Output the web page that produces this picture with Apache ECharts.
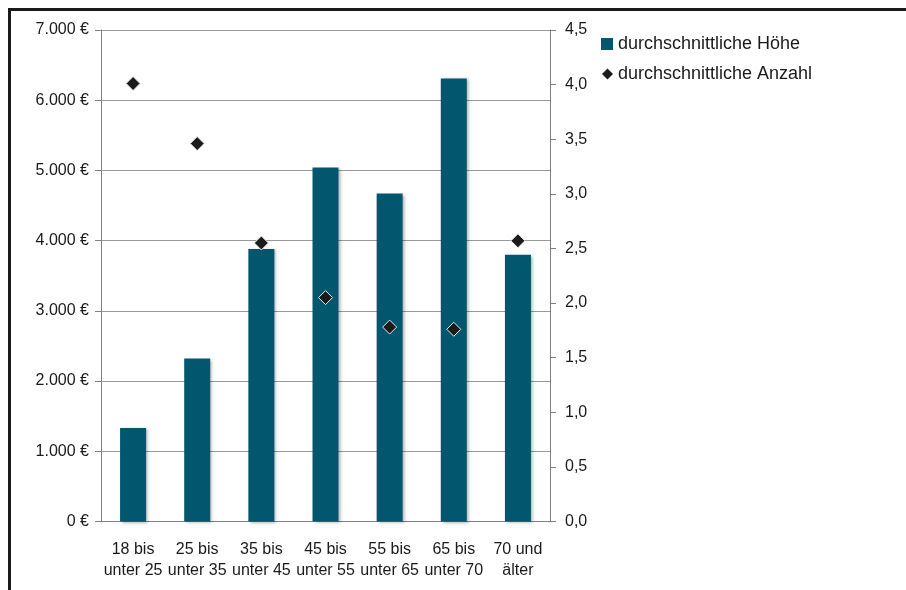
<!DOCTYPE html>
<html>
<head>
<meta charset="utf-8">
<script src="https://cdn.jsdelivr.net/npm/echarts@6/dist/echarts.min.js"></script>
<style>html,body{margin:0;padding:0;background:#fff;}#c{width:906px;height:590px;}</style>
</head>
<body>
<div id="c"></div>
<script>
var categories = ['18 bis\nunter 25','25 bis\nunter 35','35 bis\nunter 45','45 bis\nunter 55','55 bis\nunter 65','65 bis\nunter 70','70 und\nälter'];
var hoehe = [1330, 2320, 3880, 5040, 4670, 6310, 3800];
var anzahl = [4.01, 3.46, 2.55, 2.05, 1.78, 1.76, 2.57];
var seriesNames = ['durchschnittliche Höhe', 'durchschnittliche Anzahl'];

var FONT = '"Liberation Sans", Arial, sans-serif';
var chart = echarts.init(document.getElementById('c'), null, {renderer: 'canvas'});
chart.setOption({
  animation: false,
  backgroundColor: '#fff',
  textStyle: {fontFamily: FONT},
  grid: {left: 101, right: 356, top: 30, bottom: 68.5, containLabel: false},
  legend: [{
    orient: 'vertical', left: 601, top: 35, padding: 0, itemWidth: 12, itemHeight: 12,
    data: [{name: seriesNames[0], icon: 'rect'}],
    textStyle: {fontSize: 18, color: '#1a1a1a', fontFamily: FONT}
  }, {
    orient: 'vertical', left: 602, top: 65, padding: 0, itemWidth: 11, itemHeight: 11,
    data: [{name: seriesNames[1], icon: 'diamond', itemStyle: {borderWidth: 0, color: '#1c1a1b'}}],
    textStyle: {fontSize: 18, color: '#1a1a1a', fontFamily: FONT}
  }],
  xAxis: {
    type: 'category', data: categories,
    axisLine: {lineStyle: {color: '#808080', width: 1}},
    axisTick: {show: false},
    axisLabel: {color: '#1a1a1a', fontSize: 16, lineHeight: 21, margin: 18, interval: 0, fontFamily: FONT}
  },
  yAxis: [{
    type: 'value', min: 0, max: 7000, interval: 1000,
    axisLine: {show: true, lineStyle: {color: '#808080'}},
    axisTick: {show: true, length: 6, lineStyle: {color: '#808080'}},
    splitLine: {lineStyle: {color: '#999999', width: 1}},
    axisLabel: {color: '#1a1a1a', fontSize: 16, margin: 12, fontFamily: FONT,
      formatter: function(v){ return (v === 0 ? '0' : String(v).replace(/\B(?=(\d{3})+(?!\d))/g, '.')) + ' €'; }}
  }, {
    type: 'value', min: 0, max: 4.5, interval: 0.5, position: 'right',
    axisLine: {show: true, lineStyle: {color: '#808080'}},
    axisTick: {show: true, length: 6, lineStyle: {color: '#808080'}},
    splitLine: {show: false},
    axisLabel: {color: '#1a1a1a', fontSize: 16, margin: 15, fontFamily: FONT,
      formatter: function(v){ return v.toFixed(1).replace('.', ','); }}
  }],
  series: [{
    name: seriesNames[0], type: 'bar', data: hoehe, yAxisIndex: 0, barWidth: 26,
    itemStyle: {color: '#02566e', shadowColor: 'rgba(0,0,0,0.3)', shadowBlur: 3, shadowOffsetX: 2, shadowOffsetY: 1}
  }, {
    name: seriesNames[1], type: 'scatter', data: anzahl, yAxisIndex: 1,
    symbol: 'diamond', symbolSize: 14, z: 5,
    itemStyle: {color: '#1c1a1b', borderColor: '#e3eeee', borderWidth: 1, opacity: 1}
  }],
  graphic: [{
    type: 'polyline', silent: true,
    shape: {points: [[9.5, 600], [9.5, 9.5], [910, 9.5]]},
    style: {stroke: '#1a1a1a', lineWidth: 3, fill: null}
  }]
});
</script>
</body>
</html>
